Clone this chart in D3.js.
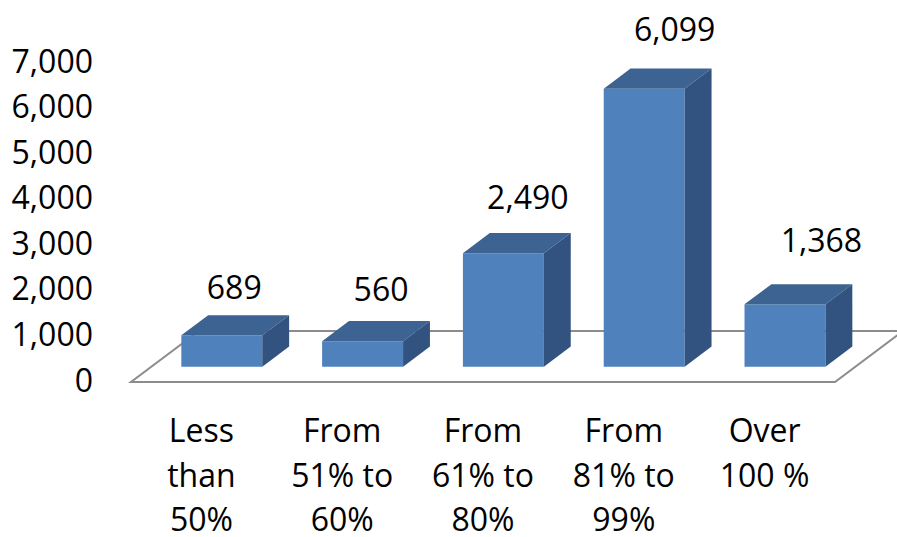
<!DOCTYPE html>
<html>
<head>
<meta charset="utf-8">
<script src="https://cdn.jsdelivr.net/npm/d3@7"></script>
<style>
  html, body { margin: 0; padding: 0; background: #fff; }
  text { font-family: "Open Sans", "Noto Sans", sans-serif; fill: #000; }
</style>
</head>
<body>
<div id="chart"></div>
<script>
// data
var categories = ["Less than 50%", "From 51% to 60%", "From 61% to 80%", "From 81% to 99%", "Over 100 %"];
var catLines = [["Less", "than", "50%"], ["From", "51% to", "60%"], ["From", "61% to", "80%"], ["From", "81% to", "99%"], ["Over", "100 %"]];
var values = [689, 560, 2490, 6099, 1368];
var yTicks = [0, 1000, 2000, 3000, 4000, 5000, 6000, 7000];

var width = 897, height = 537;
var depthX = 68, depthY = 51; // screen offset for the full floor depth
var zFront = 0.3, zBack = 0.695;
var fontSize = "32px";

var svg = d3.select("#chart").append("svg")
  .attr("width", width)
  .attr("height", height);

var x = d3.scaleBand()
  .domain(categories)
  .range([131, 835])
  .padding(0);

var y = d3.scaleLinear()
  .domain([0, 7000])
  .range([382, 63]);

var fmt = d3.format(",");

// project (X on front plane, depth z 0..1, value v) to screen
function proj(X, z, v) {
  return [X + z * depthX, y(v) - z * depthY];
}
function pts(arr) {
  return arr.map(function (p) { return p.join(","); }).join(" ");
}

// floor
svg.append("polygon")
  .attr("points", pts([proj(x.range()[0], 0, 0), proj(x.range()[1], 0, 0), proj(x.range()[1], 1, 0), proj(x.range()[0], 1, 0)]))
  .attr("fill", "#fff")
  .attr("stroke", "#8c8c8c")
  .attr("stroke-width", 2);

// y axis labels
svg.append("g").selectAll("text")
  .data(yTicks)
  .enter().append("text")
  .attr("x", 93)
  .attr("y", function (d) { return y(d) + 1; })
  .attr("text-anchor", "end")
  .attr("dominant-baseline", "middle")
  .style("font-size", fontSize)
  .text(function (d) { return fmt(d); });

// bars
var barW = x.bandwidth() * 0.575;
var bars = svg.append("g").selectAll("g")
  .data(values)
  .enter().append("g");

bars.each(function (v, i) {
  var g = d3.select(this);
  var c = x(categories[i]) + x.bandwidth() / 2;
  var L = c - barW / 2, R = c + barW / 2;
  // front
  g.append("polygon")
    .attr("points", pts([proj(L, zFront, 0), proj(R, zFront, 0), proj(R, zFront, v), proj(L, zFront, v)]))
    .attr("fill", "#4f81bd");
  // top
  g.append("polygon")
    .attr("points", pts([proj(L, zFront, v), proj(R, zFront, v), proj(R, zBack, v), proj(L, zBack, v)]))
    .attr("fill", "#3c6391");
  // side
  g.append("polygon")
    .attr("points", pts([proj(R, zFront, 0), proj(R, zBack, 0), proj(R, zBack, v), proj(R, zFront, v)]))
    .attr("fill", "#32537f");
  // value label, nudged with perspective
  var top = proj(c, (zFront + zBack) / 2, v);
  g.append("text")
    .attr("x", top[0] - 1 + 6 * i)
    .attr("y", y(v) - zBack * depthY - (16 + 4 * i))
    .attr("text-anchor", "middle")
    .style("font-size", fontSize)
    .text(fmt(v));
});

// category labels
var cats = svg.append("g").selectAll("text")
  .data(categories)
  .enter().append("text")
  .attr("text-anchor", "middle")
  .style("font-size", fontSize)
  .attr("transform", function (d) { return "translate(" + (x(d) + x.bandwidth() / 2) + ",442)"; });

cats.selectAll("tspan")
  .data(function (d, i) { return catLines[i]; })
  .enter().append("tspan")
  .attr("x", 0)
  .attr("y", function (d, j) { return j * 44.5; })
  .text(function (d) { return d; });
</script>
</body>
</html>
